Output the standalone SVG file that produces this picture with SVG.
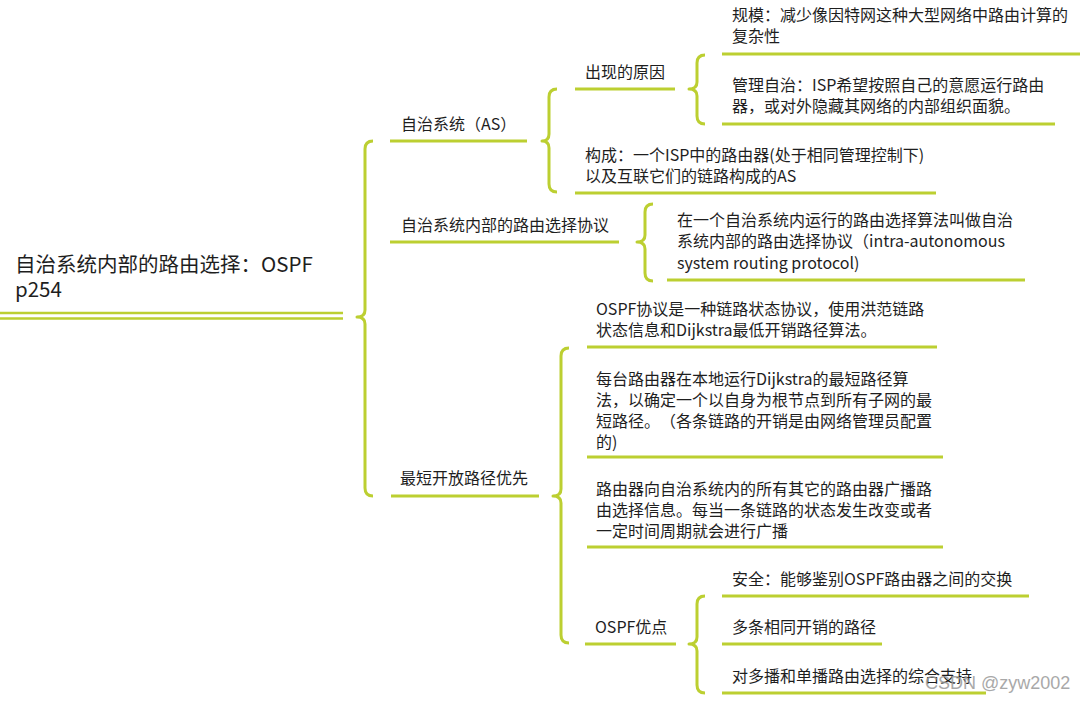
<svg xmlns="http://www.w3.org/2000/svg" width="1087" height="703" viewBox="0 0 1087 703">
<style>
.t{font-family:"Microsoft YaHei","Noto Sans CJK SC","Noto Sans",sans-serif;font-size:16px;fill:#1e1e1e;text-spacing-trim:space-all}
.root{font-size:20.5px}
.u{stroke:#bccf31;stroke-width:3;fill:none;stroke-linecap:butt}
.b{stroke:#bccf31;stroke-width:3;fill:none;stroke-linejoin:round}
.wm{font-family:"Liberation Sans",Arial,sans-serif;font-size:18px;fill:#9a9a9a;opacity:0.85}
</style>
<rect width="1087" height="703" fill="#ffffff"/>
<g id="connectors">
<path class="b" d="M373,141 Q365,141 365,149 L365,310 Q365,317 357,317 Q365,317 365,324 L365,488 Q365,496 373,496"/>
<path class="b" d="M557,89 Q549,89 549,97 L549,134 Q549,141 542,141 Q549,141 549,148 L549,184 Q549,192 557,192"/>
<path class="b" d="M705,55 Q697,55 697,63 L697,82 Q697,89 689,89 Q697,89 697,96 L697,116 Q697,124 705,124"/>
<path class="b" d="M653,204 Q645,204 645,212 L645,235 Q645,242 637,242 Q645,242 645,249 L645,273 Q645,281 653,281"/>
<path class="b" d="M569,348 Q561,348 561,356 L561,489 Q561,496 553,496 Q561,496 561,503 L561,635 Q561,643 569,643"/>
<path class="b" d="M705,596 Q697,596 697,604 L697,637 Q697,644 689,644 Q697,644 697,651 L697,685 Q697,693 705,693"/>
</g>
<g id="root">
<text class="t root" x="15" y="272">自治系统内部的路由选择：OSPF</text>
<text class="t root" x="15" y="297">p254</text>
<line x1="0" y1="313" x2="343" y2="313" stroke="#bccf31" stroke-width="2.5"/>
<line x1="0" y1="318.5" x2="343" y2="318.5" stroke="#bccf31" stroke-width="2.5"/>
</g>
<g id="as">
<text class="t" x="401" y="130">自治系统（AS）</text>
<line class="u" x1="390" y1="141" x2="527" y2="141"/>
</g>
<g id="reason">
<text class="t" x="585" y="78">出现的原因</text>
<line class="u" x1="575" y1="89" x2="675" y2="89"/>
</g>
<g id="scale">
<text class="t" x="732" y="21">规模：减少像因特网这种大型网络中路由计算的</text>
<text class="t" x="732" y="42">复杂性</text>
<line class="u" x1="722" y1="54" x2="1080" y2="54"/>
</g>
<g id="admin">
<text class="t" x="732" y="91">管理自治：ISP希望按照自己的意愿运行路由</text>
<text class="t" x="732" y="112">器，或对外隐藏其网络的内部组织面貌。</text>
<line class="u" x1="722" y1="124" x2="1055" y2="124"/>
</g>
<g id="compose">
<text class="t" x="585" y="161">构成：一个ISP中的路由器(处于相同管理控制下)</text>
<text class="t" x="585" y="182">以及互联它们的链路构成的AS</text>
<line class="u" x1="575" y1="193" x2="936" y2="193"/>
</g>
<g id="intra">
<text class="t" x="401" y="231">自治系统内部的路由选择协议</text>
<line class="u" x1="390" y1="242" x2="619" y2="242"/>
</g>
<g id="intra-def">
<text class="t" x="677" y="226">在一个自治系统内运行的路由选择算法叫做自治</text>
<text class="t" x="677" y="247">系统内部的路由选择协议（intra-autonomous</text>
<text class="t" x="677" y="269">system routing protocol)</text>
<line class="u" x1="667" y1="280" x2="1025" y2="280"/>
</g>
<g id="ospf">
<text class="t" x="400" y="484">最短开放路径优先</text>
<line class="u" x1="391" y1="496" x2="539" y2="496"/>
</g>
<g id="ospf-def">
<text class="t" x="596" y="315">OSPF协议是一种链路状态协议，使用洪范链路</text>
<text class="t" x="596" y="336">状态信息和Dijkstra最低开销路径算法。</text>
<line class="u" x1="587" y1="347" x2="937" y2="347"/>
</g>
<g id="ospf-dijkstra">
<text class="t" x="596" y="385">每台路由器在本地运行Dijkstra的最短路径算</text>
<text class="t" x="596" y="406">法，以确定一个以自身为根节点到所有子网的最</text>
<text class="t" x="596" y="427">短路径。（各条链路的开销是由网络管理员配置</text>
<text class="t" x="596" y="448">的)</text>
<line class="u" x1="587" y1="457" x2="943" y2="457"/>
</g>
<g id="ospf-broadcast">
<text class="t" x="596" y="495">路由器向自治系统内的所有其它的路由器广播路</text>
<text class="t" x="596" y="516">由选择信息。每当一条链路的状态发生改变或者</text>
<text class="t" x="596" y="537">一定时间周期就会进行广播</text>
<line class="u" x1="587" y1="547" x2="943" y2="547"/>
</g>
<g id="ospf-adv">
<text class="t" x="595" y="633">OSPF优点</text>
<line class="u" x1="585" y1="644" x2="676" y2="644"/>
</g>
<g id="adv-security">
<text class="t" x="732" y="585">安全：能够鉴别OSPF路由器之间的交换</text>
<line class="u" x1="722" y1="596" x2="1029" y2="596"/>
</g>
<g id="adv-multipath">
<text class="t" x="732" y="633">多条相同开销的路径</text>
<line class="u" x1="722" y1="644" x2="882" y2="644"/>
</g>
<g id="adv-multicast">
<text class="t" x="732" y="682">对多播和单播路由选择的综合支持</text>
<line class="u" x1="722" y1="693" x2="986" y2="693"/>
</g>
<text class="wm" x="925" y="689">CSDN @zyw2002</text>
</svg>
